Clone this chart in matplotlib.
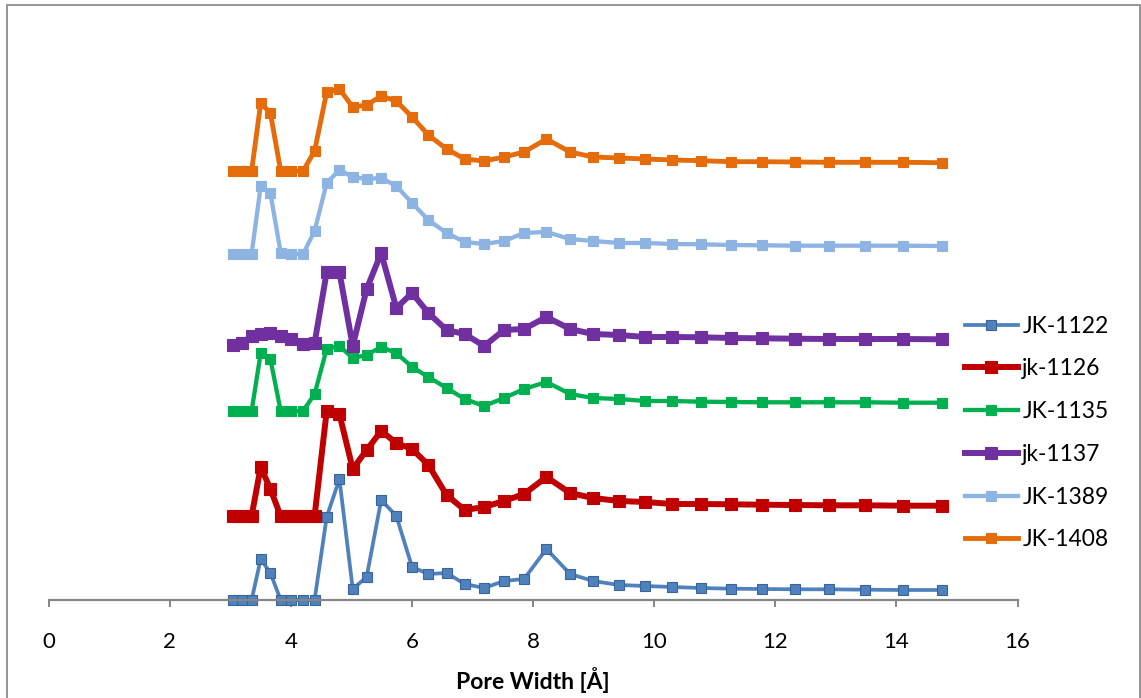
import matplotlib.pyplot as plt
from matplotlib.patches import Rectangle

plt.rcParams['font.family'] = ['Lato', 'DejaVu Sans']

# pore widths (Å) of the kernel
pore_width = [3.04, 3.19, 3.35, 3.50, 3.66, 3.83, 4.00, 4.20, 4.39, 4.59, 4.80, 5.02,
              5.25, 5.49, 5.74, 6.00, 6.27, 6.57, 6.87, 7.19, 7.52, 7.85, 8.22, 8.61,
              8.99, 9.42, 9.85, 10.30, 10.77, 11.27, 11.78, 12.32, 12.89, 13.48, 14.11, 14.75]

# curves are stacked with an offset so they don't overlap
jk1122 = [0, 0, 0, 41, 27, 0, 0, 0, 0, 83, 121, 11, 23, 100, 84, 33, 26, 27, 16, 12, 19, 21,
          51, 26, 19, 15, 14, 13, 12, 11.3, 11, 10.7, 10.7, 10.3, 10, 10]
jk1126 = [84, 84, 84, 133, 111, 84, 84, 84, 84, 189, 186, 131, 150, 169, 157, 151, 135, 105,
          90, 93, 99, 106, 123, 107, 102, 99, 98, 96, 96, 95.7, 95.3, 95, 94.7, 94.7, 94.3, 94.3]
jk1135 = [189, 189, 189, 247, 241, 189, 189, 189, 206, 251, 254, 242, 245, 253, 247, 233, 223,
          212, 201, 194, 202, 211, 218, 206, 202, 201, 199, 199, 198.3, 198, 197.7, 197.7,
          197.7, 197.7, 197.3, 197.3]
jk1137 = [255, 257, 264, 266, 267, 264, 261, 256, 257, 328, 328, 254, 311, 347, 292, 307, 287,
          270, 266, 254, 270, 271, 283, 271, 266, 265, 263, 263, 262.7, 262, 261.7, 261.3,
          261, 261, 261, 260.7]
jk1389 = [346, 346, 346, 414, 407, 347, 346, 346, 369, 417, 430, 423, 421, 422, 414, 397, 380,
          367, 358, 356, 359, 367, 368, 361, 359, 357, 357, 356, 355.7, 355, 354.7, 354.3,
          354.3, 354.3, 354.3, 354]
jk1408 = [429, 429, 429, 497, 487, 429, 429, 429, 449, 508, 511, 493, 495, 504, 499, 483, 465,
          451, 441, 439, 443, 448, 461, 448, 443, 442, 441, 440, 439.3, 438.3, 438.3, 438,
          437.7, 437.7, 437.7, 437.3]

names = ['JK-1122', 'jk-1126', 'JK-1135', 'jk-1137', 'JK-1389', 'JK-1408']
series = [jk1122, jk1126, jk1135, jk1137, jk1389, jk1408]
colors = ['#4F81BD', '#C00000', '#00B050', '#7030A0', '#8DB4E2', '#E46C0A']
edges = ['#3A659C', '#C00000', '#00B050', '#7030A0', '#8DB4E2', '#E46C0A']
widths = [2.7, 4.3, 3.1, 4.3, 3.1, 3.5]
msizes = [7.5, 8.0, 7.7, 8.0, 7.7, 7.9]

fig = plt.figure(figsize=(11.41, 6.98), dpi=100)
ax = fig.add_axes([48.8 / 1141, 98 / 698, 968.7 / 1141, 580 / 698])

for ys, name, c, ec, lw, ms in zip(series, names, colors, edges, widths, msizes):
    ax.plot(pore_width, ys, color=c, lw=lw, marker='s', ms=ms, mfc=c, mec=ec,
            mew=0.8, label=name, solid_joinstyle='round', clip_on=False)

ax.set_xlim(0, 16)
ax.set_ylim(0, 580)
ax.set_xticks(range(0, 17, 2))
ax.set_yticks([])
for s in ['left', 'right', 'top']:
    ax.spines[s].set_visible(False)
ax.spines['bottom'].set_color('#868686')
ax.spines['bottom'].set_linewidth(1.6)
ax.tick_params(axis='x', direction='out', length=5, width=1.4, color='#868686',
               labelsize=16, pad=18)
ax.set_xlabel('Pore Width [Å]', fontsize=16.5, fontweight='bold', labelpad=11)

leg = ax.legend(loc='center left', bbox_to_anchor=(965 / 1141, (698 - 433) / 698),
                bbox_transform=fig.transFigure, frameon=False, fontsize=16.5,
                borderpad=0, borderaxespad=0,
                handlelength=2.3, handletextpad=0.2, labelspacing=0.95)

# chart area border
fig.patches.append(Rectangle((7 / 1141, -0.05), 1133 / 1141, 1.05 - 5.5 / 698,
                             transform=fig.transFigure, fill=False,
                             edgecolor='#8C8C8C', lw=1.3))

fig.savefig('out.png', dpi=100)
